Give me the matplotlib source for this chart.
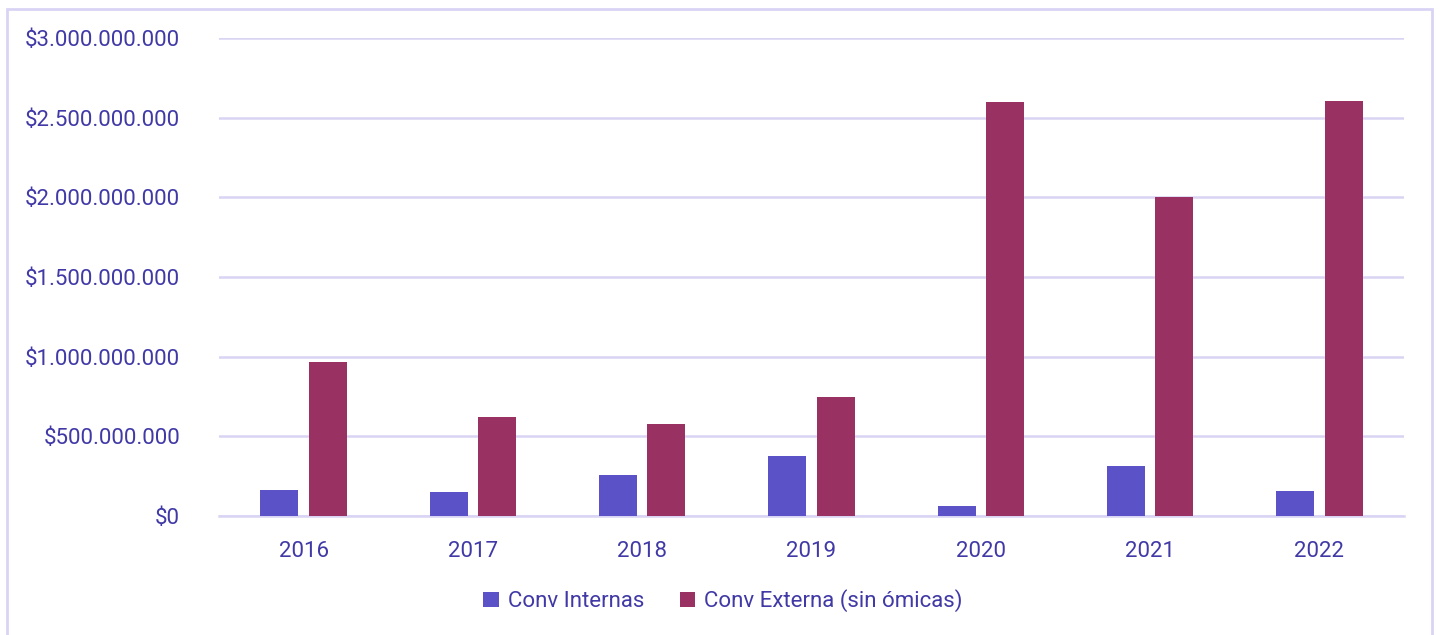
import numpy as np
import matplotlib.pyplot as plt
from matplotlib.patches import Rectangle
from matplotlib.ticker import FuncFormatter

plt.rcParams['font.family'] = ['Roboto', 'DejaVu Sans']

years = ['2016', '2017', '2018', '2019', '2020', '2021', '2022']
conv_internas = [163e6, 150e6, 257e6, 377e6, 63e6, 314e6, 157e6]
conv_externa = [966e6, 621e6, 577e6, 747e6, 2598e6, 2002e6, 2605e6]

COL_INT = '#5b52c8'
COL_EXT = '#993262'
TXT = '#4039a6'
GRID = '#d9d4f4'


def money(v, pos):
    return '$' + f'{int(round(v)):,}'.replace(',', '.')


def main():
    fig = plt.figure(figsize=(14.4, 6.35), dpi=100)
    ax = fig.add_axes([219 / 1440, 1 - 516 / 635, (1404 - 219) / 1440, (516 - 38) / 635])

    x = np.arange(len(years))
    w = 0.225
    off = 0.143
    ax.bar(x - off, conv_internas, w, color=COL_INT, label='Conv Internas', zorder=3)
    ax.bar(x + off, conv_externa, w, color=COL_EXT, label='Conv Externa (sin ómicas)', zorder=3)

    ax.set_xlim(-0.5, len(years) - 0.5)
    ax.set_ylim(0, 3e9)
    ax.set_yticks(np.arange(0, 3.01e9, 5e8))
    ax.yaxis.set_major_formatter(FuncFormatter(money))
    ax.set_xticks(x)
    ax.set_xticklabels(years)

    ax.grid(axis='y', color=GRID, lw=1.8, zorder=0)
    for s in ['top', 'right', 'left']:
        ax.spines[s].set_visible(False)
    ax.spines['bottom'].set_color(GRID)
    ax.spines['bottom'].set_linewidth(1.8)
    ax.tick_params(axis='both', length=0, labelsize=16, colors=TXT)
    ax.tick_params(axis='y', pad=28)
    ax.tick_params(axis='x', pad=18)

    fig.legend(loc='center', bbox_to_anchor=(723 / 1440, 1 - 601 / 635), ncol=2,
               frameon=False, fontsize=16, labelcolor=TXT, handlelength=0.7,
               handleheight=0.7, handletextpad=0.4, columnspacing=1.6)

    fig.patches.append(Rectangle((7 / 1440, -0.1), 1425 / 1440, 1.1 - 9 / 635,
                                 transform=fig.transFigure, fill=False,
                                 edgecolor=GRID, lw=2))

    fig.savefig('out.png', dpi=100)


if __name__ == '__main__':
    main()
